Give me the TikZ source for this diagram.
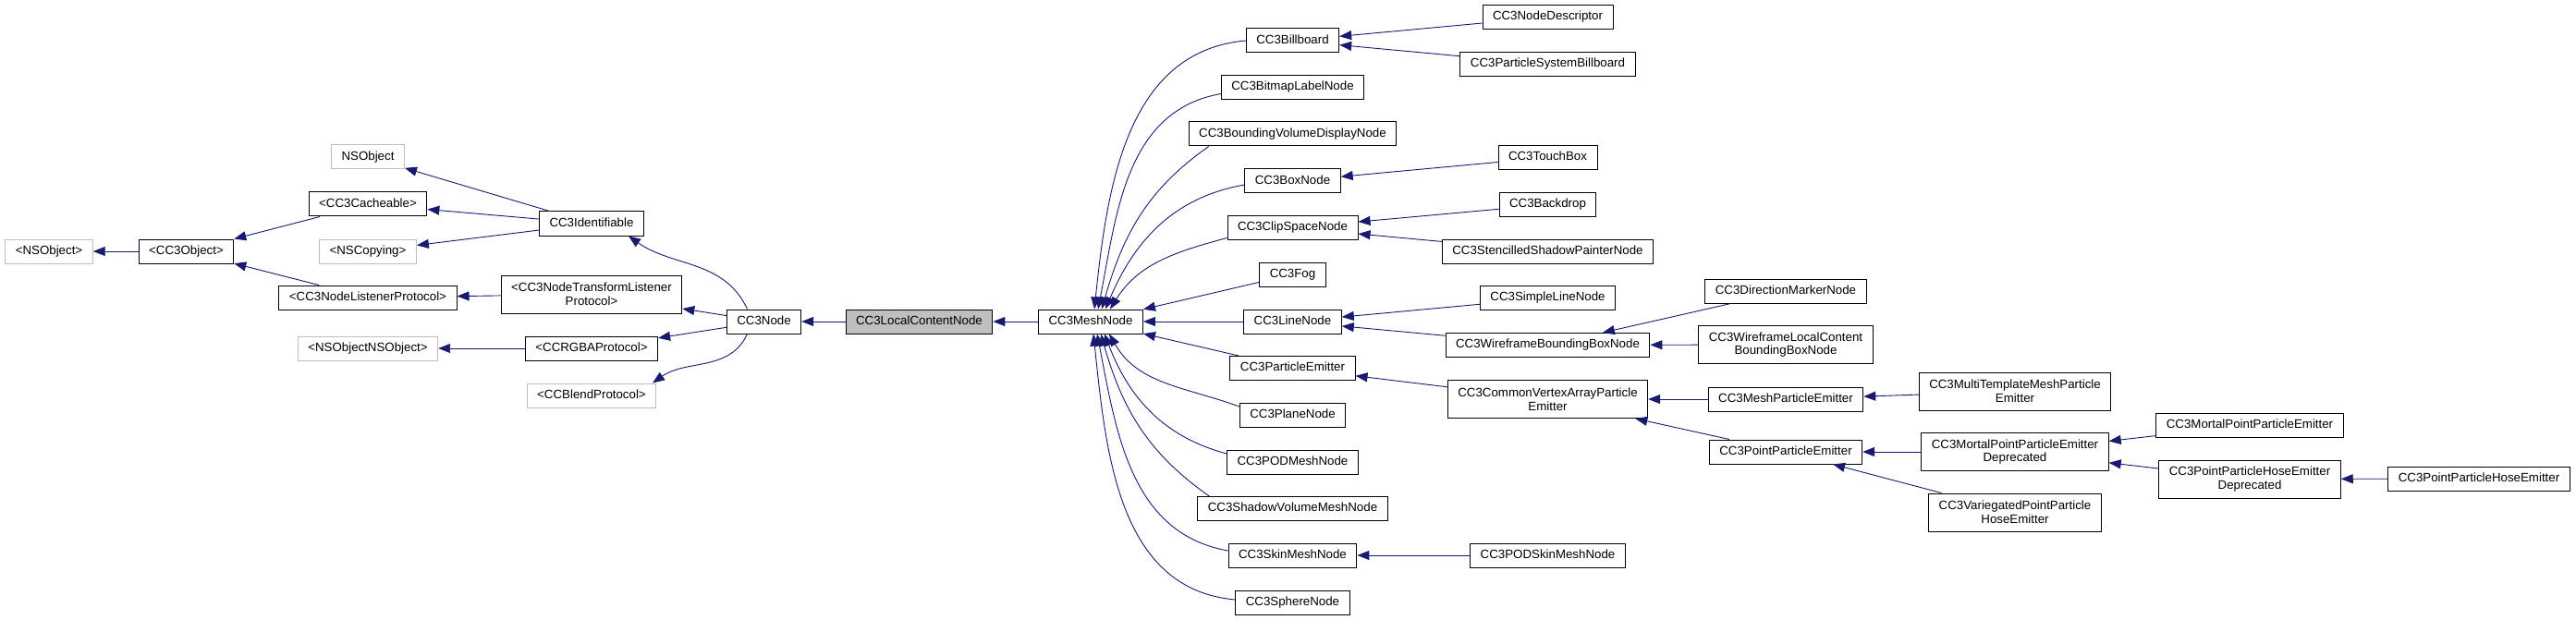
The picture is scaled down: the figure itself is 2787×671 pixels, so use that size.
\documentclass[tikz,border=0pt]{standalone}
\usepackage{fontspec}
\setsansfont{Liberation Sans}
\usetikzlibrary{arrows.meta}
\definecolor{dxblue}{HTML}{191970}
\definecolor{dxgray}{HTML}{BFBFBF}
\tikzset{
  box/.style  ={draw=black, fill=white, line width=1pt, inner xsep=11pt, inner ysep=2pt,
                font=\sffamily\fontsize{13.3}{14.7}\selectfont},
  cls/.style  ={box, minimum height=26pt, text height=9.7pt, text depth=2.8pt},
  cls2/.style ={box, minimum height=41pt, align=center},
  ext/.style  ={cls, draw=dxgray},
  self/.style ={cls, fill=dxgray},
  inh/.style  ={draw=dxblue, line width=0.9pt, -{Triangle[length=13pt,width=10pt]}},
}

\begin{document}
\begin{tikzpicture}[x=1pt,y=1pt]
  \useasboundingbox (0,0) rectangle (2787,-671);
  % bases
  \node[ext]  (nsobjp) at (53,-272)    {<NSObject>};
  \node[cls]  (cobj)   at (201.5,-272) {<CC3Object>};
  \node[ext]  (nsobj)  at (398,-170)   {NSObject};
  \node[cls]  (cache)  at (398,-221)   {<CC3Cacheable>};
  \node[ext]  (nscopy) at (398,-272)   {<NSCopying>};
  \node[cls]  (lstn)   at (398,-322)   {<CC3NodeListenerProtocol>};
  \node[ext]  (nsnso)  at (398,-377)   {<NSObjectNSObject>};
  \node[cls]  (ident)  at (640,-242)   {CC3Identifiable};
  \node[cls2] (trans)  at (640,-318.5) {<CC3NodeTransformListener\\Protocol>};
  \node[cls]  (rgba)   at (640,-377)   {<CCRGBAProtocol>};
  \node[ext]  (blend)  at (640,-428)   {<CCBlendProtocol>};
  \node[cls]  (cnode)  at (826.5,-348) {CC3Node};
  \node[self] (local)  at (994.5,-348) {CC3LocalContentNode};
  \node[cls]  (mesh)   at (1180,-348)  {CC3MeshNode};
  % direct subclasses of the mesh node
  \node[cls] (bill)   at (1398.5,-44)    {CC3Billboard};
  \node[cls] (bitmap) at (1398.5,-94.5)  {CC3BitmapLabelNode};
  \node[cls] (bvd)    at (1398.5,-145)   {CC3BoundingVolumeDisplayNode};
  \node[cls] (boxn)   at (1398.5,-196)   {CC3BoxNode};
  \node[cls] (clip)   at (1398.5,-246.5) {CC3ClipSpaceNode};
  \node[cls] (fog)    at (1398.5,-297)   {CC3Fog};
  \node[cls] (line)   at (1398.5,-348)   {CC3LineNode};
  \node[cls] (pemit)  at (1398.5,-398.5) {CC3ParticleEmitter};
  \node[cls] (plane)  at (1398.5,-449)   {CC3PlaneNode};
  \node[cls] (podm)   at (1398.5,-500)   {CC3PODMeshNode};
  \node[cls] (shadow) at (1398.5,-550.5) {CC3ShadowVolumeMeshNode};
  \node[cls] (skin)   at (1398.5,-601)   {CC3SkinMeshNode};
  \node[cls] (sphere) at (1398.5,-652)   {CC3SphereNode};
  % further down
  \node[cls]  (ndesc)   at (1674.5,-18.5)  {CC3NodeDescriptor};
  \node[cls]  (psbb)    at (1674.5,-69.5)  {CC3ParticleSystemBillboard};
  \node[cls]  (touch)   at (1674.5,-170.5) {CC3TouchBox};
  \node[cls]  (backd)   at (1674.5,-221.5) {CC3Backdrop};
  \node[cls]  (stenc)   at (1674.5,-272)   {CC3StencilledShadowPainterNode};
  \node[cls]  (sline)   at (1674.5,-322.5) {CC3SimpleLineNode};
  \node[cls]  (wire)    at (1674.5,-373.5) {CC3WireframeBoundingBoxNode};
  \node[cls2] (cvap)    at (1674.5,-432)   {CC3CommonVertexArrayParticle\\Emitter};
  \node[cls]  (podskin) at (1674.5,-601)   {CC3PODSkinMeshNode};
  \node[cls]  (dirm)    at (1932,-315)     {CC3DirectionMarkerNode};
  \node[cls2] (wlcb)    at (1932,-373)     {CC3WireframeLocalContent\\BoundingBoxNode};
  \node[cls]  (mpe)     at (1932,-432)     {CC3MeshParticleEmitter};
  \node[cls]  (ppe)     at (1932,-489)     {CC3PointParticleEmitter};
  \node[cls2] (mtmpe)   at (2180,-423.5)   {CC3MultiTemplateMeshParticle\\Emitter};
  \node[cls2] (mppd)    at (2180,-489)     {CC3MortalPointParticleEmitter\\Deprecated};
  \node[cls2] (vph)     at (2180,-554.5)   {CC3VariegatedPointParticle\\HoseEmitter};
  \node[cls]  (mppe)    at (2434,-460)     {CC3MortalPointParticleEmitter};
  \node[cls2] (pphd)    at (2434,-518.5)   {CC3PointParticleHoseEmitter\\Deprecated};
  \node[cls]  (pphe)    at (2682,-518)     {CC3PointParticleHoseEmitter};

  \foreach \a/\b in {cobj/nsobjp,cache/cobj,lstn/cobj,ident/nsobj,ident/cache,ident/nscopy,
      trans/lstn,rgba/nsnso,cnode/trans,cnode/rgba,local/cnode,mesh/local,
      fog/mesh,line/mesh,pemit/mesh,ndesc/bill,psbb/bill,touch/boxn,backd/clip,stenc/clip,
      sline/line,wire/line,podskin/skin,cvap/pemit,dirm/wire,wlcb/wire,mpe/cvap,ppe/cvap,
      mtmpe/mpe,mppd/ppe,vph/ppe,mppe/mppd,pphd/mppd,pphe/pphd}
    \draw[inh] (\a) -- (\b);

  \draw[inh] ([xshift=-18pt]cnode.north) to[out=115,in=-35] ([xshift=40pt]ident.south);
  \draw[inh] ([xshift=-18pt]cnode.south) to[out=-115,in=35] ([xshift=66pt]blend.north);

  \draw[inh] (bill.west) to[out=185,in=84] ([xshift=4pt]mesh.north);
  \draw[inh] ([yshift=-7pt]bitmap.west) to[out=190,in=79] ([xshift=8pt]mesh.north);
  \draw[inh] ([xshift=22pt]bvd.south west) to[out=215,in=74] ([xshift=12pt]mesh.north);
  \draw[inh] ([yshift=-4pt]boxn.west) to[out=190,in=67] ([xshift=16pt]mesh.north);
  \draw[inh] ([yshift=-11pt]clip.west) to[out=195,in=58] ([xshift=21pt]mesh.north);
  \draw[inh] ([yshift=9pt]plane.west) to[out=160,in=-60] ([xshift=20pt]mesh.south);
  \draw[inh] ([yshift=9pt]podm.west) to[out=165,in=-69] ([xshift=15pt]mesh.south);
  \draw[inh] ([xshift=13pt]shadow.north west) to[out=145,in=-74] ([xshift=11pt]mesh.south);
  \draw[inh] ([yshift=5pt]skin.west) to[out=170,in=-79] ([xshift=7pt]mesh.south);
  \draw[inh] ([yshift=3pt]sphere.west) to[out=175,in=-84] ([xshift=3pt]mesh.south);
\end{tikzpicture}
\end{document}
